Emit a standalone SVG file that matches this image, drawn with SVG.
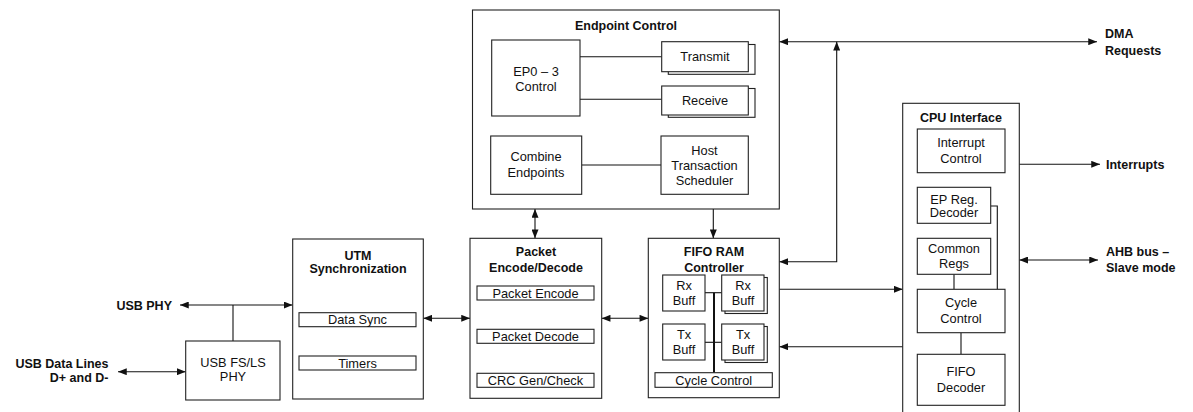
<svg xmlns="http://www.w3.org/2000/svg" width="1193" height="412" viewBox="0 0 1193 412">
<defs>
<style>
.box{fill:#fff;stroke:#222;stroke-width:1.1}
.ln{fill:none;stroke:#111;stroke-width:1.1}
.t{font-family:"Liberation Sans",Arial,sans-serif;font-size:12.8px;fill:#111;text-anchor:middle}
.b{font-weight:bold;font-size:12.5px}
.l{text-anchor:start}
.r{text-anchor:end}
</style>
<marker id="ah" viewBox="0 0 10 8" refX="10" refY="4" markerWidth="9" markerHeight="7" markerUnits="userSpaceOnUse" orient="auto-start-reverse">
<path d="M0,0 L10,4 L0,8 z" fill="#111"/>
</marker>
</defs>
<rect width="1193" height="412" fill="#fff"/>

<g id="connectors">
<line class="ln" x1="180" y1="305" x2="292.5" y2="305" marker-start="url(#ah)" marker-end="url(#ah)"/>
<line class="ln" x1="233" y1="305" x2="233" y2="341"/>
<line class="ln" x1="118" y1="371.7" x2="185.7" y2="371.7" marker-start="url(#ah)" marker-end="url(#ah)"/>
<line class="ln" x1="423.3" y1="318.3" x2="470" y2="318.3" marker-start="url(#ah)" marker-end="url(#ah)"/>
<line class="ln" x1="601.7" y1="318.3" x2="648.3" y2="318.3" marker-start="url(#ah)" marker-end="url(#ah)"/>
<line class="ln" x1="535" y1="209" x2="535" y2="238.3" marker-start="url(#ah)" marker-end="url(#ah)"/>
<line class="ln" x1="713.3" y1="209" x2="713.3" y2="238.3" marker-end="url(#ah)"/>
<line class="ln" x1="779.3" y1="41.7" x2="1097" y2="41.7" marker-start="url(#ah)" marker-end="url(#ah)"/>
<path class="ln" d="M779.3,261.7 H836.7 V41.7" marker-start="url(#ah)" marker-end="url(#ah)"/>
<line class="ln" x1="779.3" y1="289.3" x2="902.7" y2="289.3" marker-end="url(#ah)"/>
<line class="ln" x1="906.7" y1="346.7" x2="779.3" y2="346.7" marker-end="url(#ah)"/>
<line class="ln" x1="1019.3" y1="164.3" x2="1100" y2="164.3" marker-end="url(#ah)"/>
<line class="ln" x1="1019.3" y1="260" x2="1098" y2="260" marker-start="url(#ah)" marker-end="url(#ah)"/>
</g>

<g id="labels">
<text class="t b r" x="172" y="309.5">USB PHY</text>
<text class="t b r" x="108.5" y="367.5">USB Data Lines</text>
<text class="t b r" x="108.5" y="381.5">D+ and D-</text>
<text class="t b l" x="1105" y="37.5">DMA</text>
<text class="t b l" x="1105" y="54.5">Requests</text>
<text class="t b l" x="1106" y="168.5">Interrupts</text>
<text class="t b l" x="1106" y="256">AHB bus –</text>
<text class="t b l" x="1106" y="271.7">Slave mode</text>
</g>

<g id="usb-fsls-phy">
<rect class="box" x="185.7" y="341" width="94.3" height="59"/>
<text class="t" x="233" y="367">USB FS/LS</text>
<text class="t" x="233" y="381">PHY</text>
</g>

<g id="utm-sync">
<rect class="box" x="292.7" y="239" width="130.6" height="160"/>
<text class="t b" x="358" y="259.5">UTM</text>
<text class="t b" x="358" y="272.5">Synchronization</text>
<rect class="box" x="299" y="312.7" width="117" height="14"/>
<text class="t" x="357.5" y="324.2">Data Sync</text>
<rect class="box" x="299" y="356" width="117" height="14"/>
<text class="t" x="357.5" y="367.5">Timers</text>
</g>

<g id="packet-encode-decode">
<rect class="box" x="470" y="238.3" width="131.7" height="160"/>
<text class="t b" x="536" y="256">Packet</text>
<text class="t b" x="536" y="271.5">Encode/Decode</text>
<rect class="box" x="477" y="286" width="117" height="14"/>
<text class="t" x="535.5" y="297.6">Packet Encode</text>
<rect class="box" x="477" y="329.3" width="117" height="14"/>
<text class="t" x="535.5" y="340.9">Packet Decode</text>
<rect class="box" x="477" y="373.3" width="117" height="14"/>
<text class="t" x="535.5" y="384.9">CRC Gen/Check</text>
</g>

<g id="fifo-ram-controller">
<rect class="box" x="648.3" y="238.3" width="131" height="159.4"/>
<text class="t b" x="714" y="256">FIFO RAM</text>
<text class="t b" x="714" y="271.5">Controller</text>
<line class="ln" x1="705" y1="292.7" x2="721.7" y2="292.7"/>
<line class="ln" x1="705" y1="342.3" x2="721.7" y2="342.3"/>
<line x1="714" y1="292.7" x2="714" y2="372.7" stroke="#111" stroke-width="2"/>
<rect class="box" x="662.7" y="275" width="42.3" height="36"/>
<text class="t" x="684" y="289.5">Rx</text>
<text class="t" x="684" y="305">Buff</text>
<rect class="box" x="725" y="277.5" width="42.3" height="36"/>
<rect class="box" x="721.7" y="275" width="42.3" height="36"/>
<text class="t" x="743" y="289.5">Rx</text>
<text class="t" x="743" y="305">Buff</text>
<rect class="box" x="662.7" y="324" width="42.3" height="36"/>
<text class="t" x="684" y="338.5">Tx</text>
<text class="t" x="684" y="354">Buff</text>
<rect class="box" x="725" y="326.5" width="42.3" height="36"/>
<rect class="box" x="721.7" y="324" width="42.3" height="36"/>
<text class="t" x="743" y="338.5">Tx</text>
<text class="t" x="743" y="354">Buff</text>
<rect class="box" x="655" y="372.7" width="117.3" height="14.6"/>
<text class="t" x="713.7" y="384.5">Cycle Control</text>
</g>

<g id="endpoint-control">
<rect class="box" x="472.5" y="10" width="306.8" height="199"/>
<text class="t b" x="626" y="29.5">Endpoint Control</text>
<line class="ln" x1="580" y1="56.7" x2="661.7" y2="56.7"/>
<line class="ln" x1="580" y1="99.3" x2="661.7" y2="99.3"/>
<line class="ln" x1="581.7" y1="165" x2="661" y2="165"/>
<rect class="box" x="491.7" y="40" width="88.3" height="76"/>
<text class="t" x="536" y="76">EP0 – 3</text>
<text class="t" x="536" y="90.5">Control</text>
<rect class="box" x="668.3" y="44.5" width="86.7" height="29.8"/>
<rect class="box" x="661.7" y="41.7" width="86.6" height="30"/>
<text class="t" x="705" y="61">Transmit</text>
<rect class="box" x="668.3" y="88.5" width="86.7" height="28.8"/>
<rect class="box" x="661.7" y="86" width="86.6" height="29"/>
<text class="t" x="705" y="104.5">Receive</text>
<rect class="box" x="490.7" y="136" width="91" height="58.3"/>
<text class="t" x="536" y="161">Combine</text>
<text class="t" x="536" y="177">Endpoints</text>
<rect class="box" x="661" y="136" width="87.3" height="58.3"/>
<text class="t" x="704.5" y="154.5">Host</text>
<text class="t" x="704.5" y="169.5">Transaction</text>
<text class="t" x="704.5" y="185">Scheduler</text>
</g>

<g id="cpu-interface">
<rect class="box" x="902.7" y="103.3" width="116.6" height="320"/>
<text class="t b" x="961" y="121.5">CPU Interface</text>
<path class="ln" d="M990.7,206 H997.3 V289.3"/>
<line class="ln" x1="954" y1="274.3" x2="954" y2="289.3"/>
<line class="ln" x1="961" y1="332.7" x2="961" y2="354.3"/>
<rect class="box" x="917.3" y="129" width="87.7" height="43.7"/>
<text class="t" x="961" y="147">Interrupt</text>
<text class="t" x="961" y="162.7">Control</text>
<rect class="box" x="917.3" y="187.3" width="73.4" height="36"/>
<text class="t" x="954" y="203.7">EP Reg.</text>
<text class="t" x="954" y="217.3">Decoder</text>
<rect class="box" x="917.3" y="238.3" width="73.4" height="36"/>
<text class="t" x="954" y="252.7">Common</text>
<text class="t" x="954" y="268.3">Regs</text>
<rect class="box" x="917.3" y="289.3" width="87.7" height="43.4"/>
<text class="t" x="961" y="307">Cycle</text>
<text class="t" x="961" y="322.7">Control</text>
<rect class="box" x="917.3" y="354.3" width="87.7" height="51"/>
<text class="t" x="961" y="376">FIFO</text>
<text class="t" x="961" y="391.7">Decoder</text>
</g>
</svg>
